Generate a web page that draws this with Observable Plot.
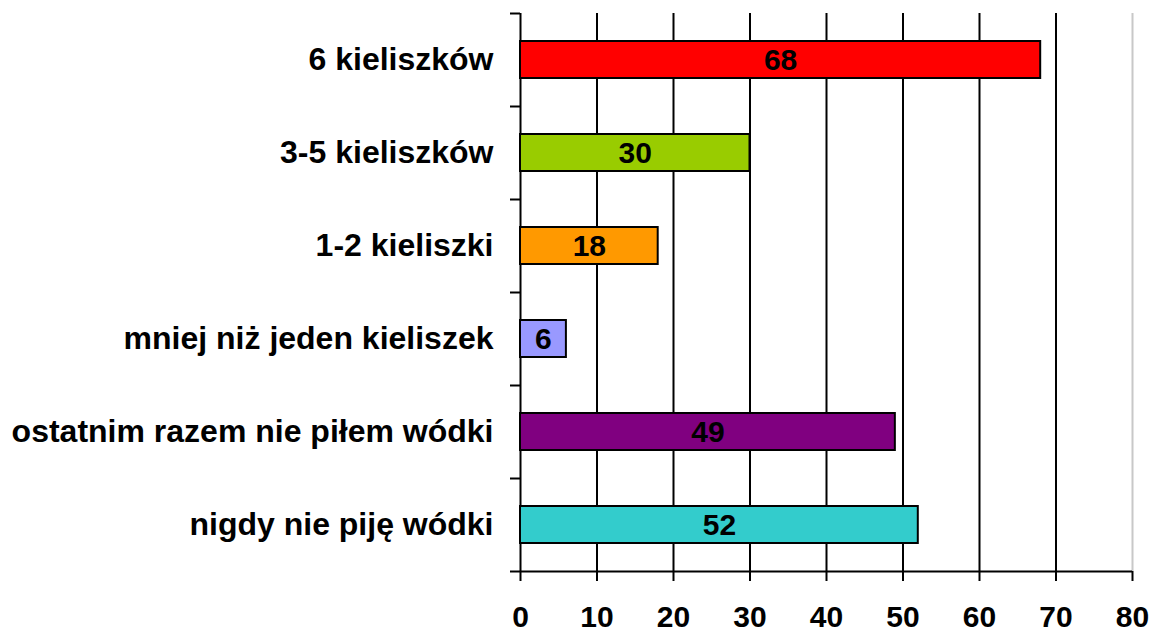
<!DOCTYPE html>
<html>
<head>
<meta charset="utf-8">
<script src="https://cdn.jsdelivr.net/npm/d3@7"></script>
<script src="https://cdn.jsdelivr.net/npm/@observablehq/plot@0.6"></script>
<style>
  html, body { margin: 0; padding: 0; background: #fff; }
  svg { display: block; }
</style>
</head>
<body>
<div id="chart"></div>
<script>
const categories = [
  "6 kieliszków",
  "3-5 kieliszków",
  "1-2 kieliszki",
  "mniej niż jeden kieliszek",
  "ostatnim razem nie piłem wódki",
  "nigdy nie piję wódki"
];
const values = [68, 30, 18, 6, 49, 52];
const colors = ["#FF0000", "#99CC00", "#FF9900", "#9999FF", "#800080", "#33CCCC"];
const xTicks = [0, 10, 20, 30, 40, 50, 60, 70, 80];
const gridTicks = [10, 20, 30, 40, 50, 60, 70];

const data = categories.map((c, i) => ({category: c, value: values[i], color: colors[i]}));

const font = "Arial, 'Liberation Sans', sans-serif";
const step = (571 - 13) / categories.length;
const lastCat = categories[categories.length - 1];

const chart = Plot.plot({
  width: 1153,
  height: 633,
  marginTop: 13,
  marginBottom: 62,
  marginLeft: 520,
  marginRight: 21,
  style: {fontFamily: font, fontWeight: "bold", color: "#000", background: "#fff"},
  x: {domain: [0, 80], axis: null},
  y: {domain: categories, padding: 0, axis: null},
  marks: [
    Plot.ruleX(gridTicks, {stroke: "#000", strokeWidth: 2}),
    Plot.ruleX([80], {stroke: "#c8c8c8", strokeWidth: 2}),
    Plot.ruleX([0], {stroke: "#000", strokeWidth: 2}),
    Plot.ruleY([lastCat], {x1: 0, x2: 80, dy: step / 2, stroke: "#000", strokeWidth: 2}),
    Plot.barX(data, {
      x: "value", y: "category", fill: "color",
      stroke: "#000", strokeWidth: 2,
      insetTop: 28, insetBottom: 28
    }),
    Plot.text(data, {
      x: d => d.value / 2, y: "category", text: d => String(d.value),
      fontSize: 30, fontWeight: "bold", fill: "#000"
    }),
    Plot.axisY({
      tickSize: 0, tickPadding: 27, fontSize: 32, fontWeight: "bold", label: null
    }),
    Plot.axisY({
      tickSize: 10, tickFormat: () => "", dy: -step / 2, strokeWidth: 2, label: null
    }),
    Plot.axisY({
      ticks: [lastCat],
      tickSize: 10, tickFormat: () => "", dy: step / 2, strokeWidth: 2, label: null
    }),
    Plot.axisX({
      ticks: xTicks, tickSize: 10, tickPadding: 24, fontSize: 30, fontWeight: "bold",
      strokeWidth: 2, label: null
    })
  ]
});

document.getElementById("chart").appendChild(chart);
</script>
</body>
</html>
